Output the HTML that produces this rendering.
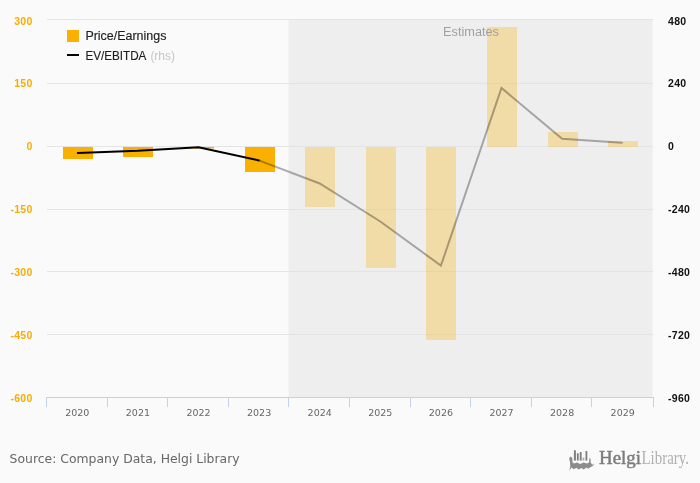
<!DOCTYPE html>
<html lang="en">
<head>
<meta charset="utf-8">
<title>Price/Earnings &amp; EV/EBITDA</title>
<style>
html,body{margin:0;padding:0;background:#fafafa;}
body{width:700px;height:483px;overflow:hidden;}
svg{display:block;}
.yl{font-family:"Liberation Sans",sans-serif;font-weight:bold;font-size:10.5px;letter-spacing:.3px;fill:#f9ac03;text-anchor:end;}
.yr{font-family:"Liberation Sans",sans-serif;font-weight:bold;font-size:10.5px;letter-spacing:.3px;fill:#111;text-anchor:start;}
.xl{font-family:"DejaVu Sans","Liberation Sans",sans-serif;font-size:9.5px;fill:#666;text-anchor:middle;}
.lg{font-family:"Liberation Sans",sans-serif;font-size:12.5px;fill:#1e1e1e;stroke:#1e1e1e;stroke-width:.15px;}
</style>
</head>
<body>
<svg width="700" height="483" viewBox="0 0 700 483">
<rect x="0" y="0" width="700" height="483" fill="#fafafa"/>
<!-- estimates zone -->
<rect x="288.6" y="20" width="364" height="377" fill="#eeeeee"/>
<!-- gridlines -->
<g stroke="#e4e4e4" stroke-width="1" shape-rendering="crispEdges">
<line x1="47" x2="653" y1="19.5" y2="19.5"/>
<line x1="47" x2="653" y1="83.5" y2="83.5"/>
<line x1="47" x2="653" y1="146.5" y2="146.5"/>
<line x1="47" x2="653" y1="209.5" y2="209.5"/>
<line x1="47" x2="653" y1="271.5" y2="271.5"/>
<line x1="47" x2="653" y1="334.5" y2="334.5"/>
</g>
<!-- x axis -->
<g stroke="#c5d1ec" stroke-width="1" shape-rendering="crispEdges" fill="none">
<line x1="46" x2="654" y1="397.5" y2="397.5"/>
<line x1="46.5" x2="46.5" y1="397" y2="407"/>
<line x1="107.5" x2="107.5" y1="397" y2="407"/>
<line x1="167.5" x2="167.5" y1="397" y2="407"/>
<line x1="228.5" x2="228.5" y1="397" y2="407"/>
<line x1="288.5" x2="288.5" y1="397" y2="407"/>
<line x1="349.5" x2="349.5" y1="397" y2="407"/>
<line x1="410.5" x2="410.5" y1="397" y2="407"/>
<line x1="470.5" x2="470.5" y1="397" y2="407"/>
<line x1="531.5" x2="531.5" y1="397" y2="407"/>
<line x1="591.5" x2="591.5" y1="397" y2="407"/>
<line x1="653.5" x2="653.5" y1="397" y2="407"/>
</g>
<!-- bars -->
<g fill="#fab000">
<rect x="63" y="147" width="30" height="12"/>
<rect x="123" y="147" width="30" height="10"/>
<rect x="184" y="147" width="30" height="1.5"/>
<rect x="245" y="147" width="30" height="25"/>
</g>
<g fill="#fab000" fill-opacity="0.3">
<rect x="305" y="147" width="30" height="60"/>
<rect x="366" y="147" width="30" height="121"/>
<rect x="426" y="147" width="30" height="193"/>
<rect x="487" y="27" width="30" height="120"/>
<rect x="548" y="132" width="30" height="15"/>
<rect x="608" y="141" width="30" height="6"/>
</g>
<!-- line -->
<polyline points="258.9,160.4 319.7,183.5 380.3,221.5 440.9,265.6 501.5,88 562.1,138.7 621.9,142.8" fill="none" stroke="#000" stroke-opacity="0.31" stroke-width="2" stroke-linejoin="miter" stroke-linecap="round"/>
<polyline points="77.8,153 137.9,150.8 198.5,147.2 258.9,160.4" fill="none" stroke="#000" stroke-width="2" stroke-linejoin="round" stroke-linecap="round"/>
<!-- zone label -->
<text x="443" y="36" font-family="Liberation Sans, sans-serif" font-size="12.5" fill="#a0a0a0" textLength="56" lengthAdjust="spacingAndGlyphs">Estimates</text>
<!-- legend -->
<rect x="67" y="30" width="12" height="12" fill="#fab000"/>
<text class="lg" x="85.4" y="40.4" textLength="81" lengthAdjust="spacingAndGlyphs">Price/Earnings</text>
<line x1="67" x2="79" y1="55" y2="55" stroke="#000" stroke-width="2"/>
<text class="lg" x="85.4" y="59.6" textLength="61" lengthAdjust="spacingAndGlyphs">EV/EBITDA</text>
<text class="lg" x="150.4" y="59.6" style="fill:#c6c6c6;stroke:none" textLength="24.6" lengthAdjust="spacingAndGlyphs">(rhs)</text>
<!-- left labels -->
<text class="yl" x="32.6" y="25">300</text>
<text class="yl" x="32.6" y="87.1">150</text>
<text class="yl" x="32.6" y="150.1">0</text>
<text class="yl" x="32.6" y="213.1">-150</text>
<text class="yl" x="32.6" y="276.1">-300</text>
<text class="yl" x="32.6" y="339.1">-450</text>
<text class="yl" x="32.6" y="402.1">-600</text>
<!-- right labels -->
<text class="yr" x="668" y="25">480</text>
<text class="yr" x="668" y="87.1">240</text>
<text class="yr" x="668" y="150.1">0</text>
<text class="yr" x="668" y="213.1">-240</text>
<text class="yr" x="668" y="276.1">-480</text>
<text class="yr" x="668" y="339.1">-720</text>
<text class="yr" x="668" y="402.1">-960</text>
<!-- x labels -->
<text class="xl" x="77.3" y="416">2020</text>
<text class="xl" x="137.9" y="416">2021</text>
<text class="xl" x="198.5" y="416">2022</text>
<text class="xl" x="259.1" y="416">2023</text>
<text class="xl" x="319.7" y="416">2024</text>
<text class="xl" x="380.3" y="416">2025</text>
<text class="xl" x="440.9" y="416">2026</text>
<text class="xl" x="501.5" y="416">2027</text>
<text class="xl" x="562.1" y="416">2028</text>
<text class="xl" x="622.7" y="416">2029</text>
<!-- footer -->
<text x="9.6" y="463.2" font-family="DejaVu Sans, Liberation Sans, sans-serif" font-size="13" fill="#666" textLength="230" lengthAdjust="spacingAndGlyphs">Source: Company Data, Helgi Library</text>
<!-- logo -->
<g fill="#7e7e7e">
<rect x="573.9" y="450.3" width="2" height="10.3"/>
<rect x="576.9" y="453.3" width="1.8" height="7.3"/>
<rect x="579.8" y="452" width="1.8" height="8.6"/>
<rect x="582.5" y="457.6" width="1.8" height="3" fill-opacity="0.6"/>
<rect x="585.5" y="451" width="1.8" height="9.6"/>
</g>
<path fill="#8c8c8c" d="M569.1,458.8 L570.4,456.5 L571.9,457.2 L572.5,459.5 L572.4,462.2 L574,463.4 L577,462.6 L580.2,464 L583.5,462.6 L587,463.4 L589,462.4 L589.6,457.6 L590.6,459 L590.6,462.6 L592.3,464.8 L594.3,463.6 L592.8,466 L590.2,467.2 L588.3,468.8 L586.3,467.6 L583.8,469.6 L581.3,467.9 L578.8,469.5 L576.3,467.7 L573.8,469.2 L571.6,467.4 L569.1,470.7 L570.3,466.8 L569.9,461.5 Z"/>
<text x="599" y="463.6" font-family="Liberation Serif, serif" font-size="19" fill="#7c7c7c" stroke="#7c7c7c" stroke-width="0.45" textLength="42" lengthAdjust="spacingAndGlyphs">Helgi</text>
<text x="641.5" y="463.6" font-family="Liberation Serif, serif" font-size="19" fill="#b0b0b0" textLength="47.5" lengthAdjust="spacingAndGlyphs">Library.</text>
</svg>
</body>
</html>
